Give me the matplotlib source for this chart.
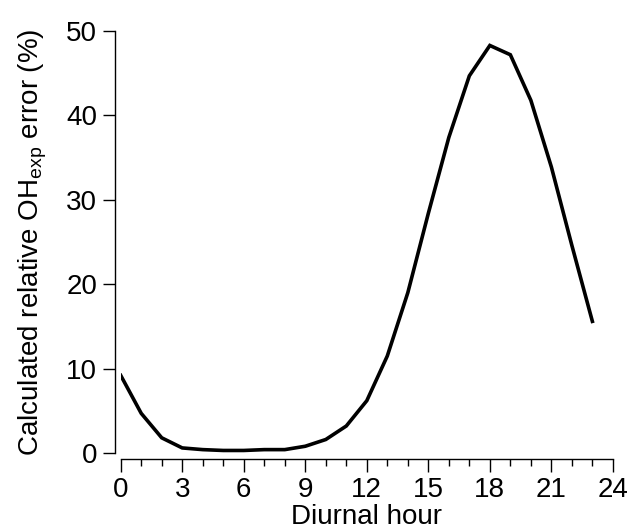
import matplotlib
matplotlib.use("Agg")
import matplotlib.pyplot as plt
from matplotlib.ticker import MultipleLocator

plt.rcParams['font.family'] = ['Liberation Sans', 'DejaVu Sans']
plt.rcParams['mathtext.fontset'] = 'custom'
plt.rcParams['mathtext.rm'] = 'Liberation Sans'
plt.rcParams['mathtext.it'] = 'Liberation Sans:italic'

hours = list(range(24))
error_pct = [9.2, 4.7, 1.8, 0.6, 0.4, 0.3, 0.3, 0.4, 0.4, 0.8, 1.6, 3.2,
             6.2, 11.5, 19.0, 28.4, 37.4, 44.7, 48.3, 47.2, 41.8, 33.9, 24.6, 15.6]
x_ticks = [0, 3, 6, 9, 12, 15, 18, 21, 24]
y_ticks = [0, 10, 20, 30, 40, 50]

fig = plt.figure(figsize=(6.31, 5.32), dpi=100)
ax = fig.add_axes([0.1913, 0.1485, 0.780, 0.793])
ax.plot(hours, error_pct, color='black', linewidth=2.6, solid_joinstyle='miter')

ax.set_xlim(0, 24)
ax.set_ylim(0, 50)
ax.set_xticks(x_ticks)
ax.set_yticks(y_ticks)
ax.xaxis.set_minor_locator(MultipleLocator(1))
for s in ['top', 'right']:
    ax.spines[s].set_visible(False)
for s in ['left', 'bottom']:
    ax.spines[s].set_position(('outward', 4))
    ax.spines[s].set_linewidth(1.0)
ax.tick_params(axis='both', which='major', length=9, width=1.0, labelsize=20, direction='out', pad=4)
ax.tick_params(axis='x', which='minor', length=5, width=1.0, direction='out')
ax.set_xlabel('Diurnal hour', fontsize=20, labelpad=1)
ax.set_ylabel(r'Calculated relative OH$_{\mathrm{exp}}$ error (%)', fontsize=20, labelpad=12)

fig.savefig('out.png', dpi=100)
